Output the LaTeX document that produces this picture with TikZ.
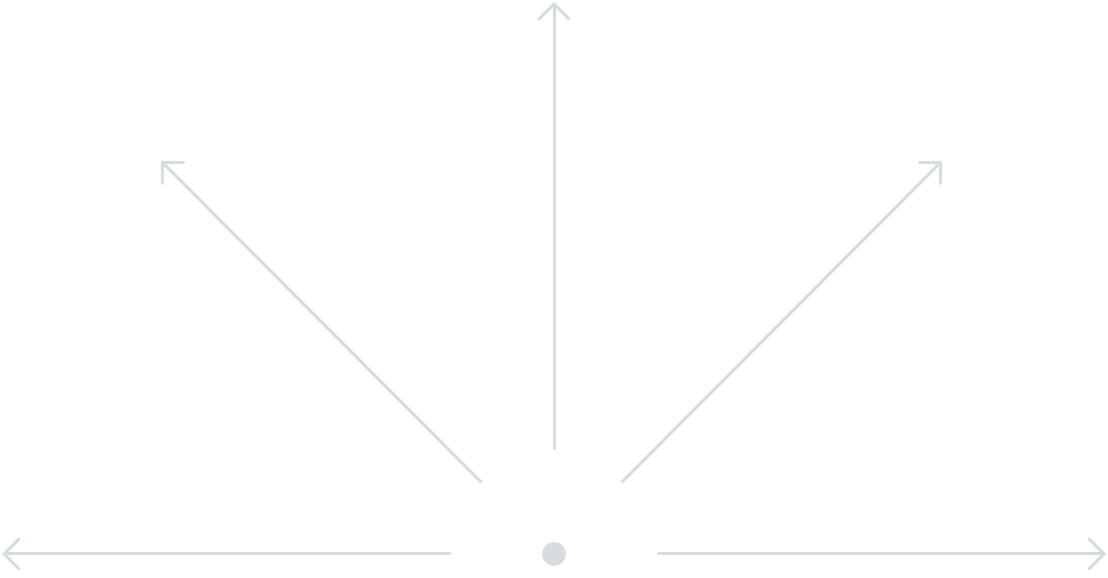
\documentclass[tikz,border=0pt]{standalone}
\usetikzlibrary{arrows.meta}
\definecolor{raygray}{RGB}{213,221,224}
\tikzset{
  ray/.style={draw=raygray, line width=3pt, line cap=round,
    -{Straight Barb[length=15pt, width=30pt, line cap=round]}},
}
\begin{document}
\begin{tikzpicture}[x=1pt,y=1pt]
    \useasboundingbox (0,0) rectangle (1108,578);
    % Centre dot
    \node[circle, fill=raygray, inner sep=0pt, minimum size=24pt] (c) at (554,24) {};
    % Start and end points
    \coordinate (ls) at (450,24);   \coordinate (le) at (2,24);
    \coordinate (rs) at (658,24);   \coordinate (re) at (1106,24);
    \coordinate (us) at (554,129);  \coordinate (ue) at (554,576);
    \coordinate (uls) at (481,96);  \coordinate (ule) at (161,417);
    \coordinate (urs) at (622,96);  \coordinate (ure) at (942,417);
    % Draw arrows
    \draw[ray] (ls) -- (le);
    \draw[ray] (rs) -- (re);
    \draw[ray] (us) -- (ue);
    \draw[ray] (uls) -- (ule);
    \draw[ray] (urs) -- (ure);
\end{tikzpicture}
\end{document}
